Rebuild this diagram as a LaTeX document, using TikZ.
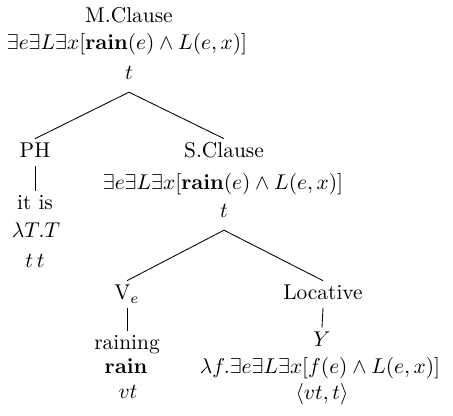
\documentclass[tikz,border=0pt]{standalone}
\usepackage{amsmath}
\usepackage{amssymb}
\usepackage{tikz}

\begin{document}
\begin{tikzpicture}[x=0.4673pt, y=-0.4673pt]
    \tikzstyle{category} = [anchor=base, inner sep=2pt, text height=6.83pt, text depth=1.5pt]
    \tikzstyle{lexical} = [anchor=base, inner sep=2pt, text height=6.9pt]
    \tikzstyle{meaning} = [anchor=base, inner sep=2pt]
    \tikzstyle{semtype} = [anchor=base, inner sep=2pt, text depth=3.5pt]

    \useasboundingbox (0,0) rectangle (453,416);

    % root
    \node[category] (mc) at (129,23) {M.Clause};
    \node[meaning] (mcf) at (127,50) {$\exists e\exists L\exists x[\mathbf{rain}(e)\wedge L(e,x)]$};
    \node[semtype] (mct) at (129,80) {$t$};

    % pleonastic head
    \node[category] (ph) at (35,158) {PH};
    \node[lexical] (phw) at (35,210) {it is};
    \node[meaning] (phf) at (36,238) {$\lambda T.T$};
    \node[semtype] (pht) at (35,268) {$t\,t$};

    % small clause
    \node[category] (sc) at (224,158) {S.Clause};
    \node[meaning] (scf) at (223,190) {$\exists e\exists L\exists x[\mathbf{rain}(e)\wedge L(e,x)]$};
    \node[semtype] (sct) at (224,218) {$t$};

    % verb
    \node[category] (ve) at (127,300) {V$_e$};
    \node[lexical] (vew) at (127,350) {raining};
    \node[meaning] (vef) at (126,374) {$\mathbf{rain}$};
    \node[semtype] (vet) at (128,399) {$v t$};

    % locative
    \node[category] (loc) at (323,300) {Locative};
    \node[lexical] (locw) at (322,347) {$Y$};
    \node[meaning] (locf) at (320,374) {$\lambda f.\exists e\exists L\exists x[f(e)\wedge L(e,x)]$};
    \node[semtype] (loct) at (322,400) {$\langle v t,t\rangle$};

    \draw (mct.south) -- (ph.north);
    \draw (mct.south) -- (sc.north);
    \draw (sct.south) -- (ve.north);
    \draw (sct.south) -- (loc.north);
    \draw (ph.south) -- (phw.north);
    \draw (ve.south) -- (vew.north);
    \draw (loc.south) -- (locw.north);
\end{tikzpicture}
\end{document}
